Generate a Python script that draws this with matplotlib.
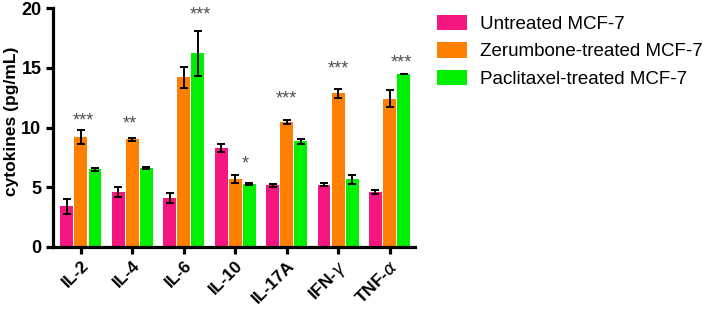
import matplotlib
matplotlib.use('Agg')
import matplotlib.pyplot as plt
import numpy as np

# cytokine panel, three treatment groups
cytokines = ['IL-2', 'IL-4', 'IL-6', 'IL-10', 'IL-17A', 'IFN-$\\gamma$', 'TNF-$\\alpha$']
series_names = ['Untreated MCF-7', 'Zerumbone-treated MCF-7', 'Paclitaxel-treated MCF-7']
untreated = [3.4, 4.6, 4.1, 8.3, 5.15, 5.2, 4.6]
untreated_err = [0.65, 0.45, 0.45, 0.35, 0.15, 0.12, 0.15]
zerumbone = [9.2, 9.0, 14.2, 5.7, 10.45, 12.85, 12.4]
zerumbone_err = [0.55, 0.12, 0.85, 0.35, 0.15, 0.35, 0.7]
paclitaxel = [6.5, 6.6, 16.2, 5.25, 8.85, 5.65, 14.5]
paclitaxel_err = [0.1, 0.06, 1.9, 0.1, 0.2, 0.4, 0.0]

# significance marks: (group index, series index, label, height of mark centre)
stars = [(0, 1.2, '***', 11.0), (1, 0.8, '**', 10.8), (2, 2.2, '***', 19.9),
         (3, 1.7, '*', 7.45), (4, 1, '***', 12.9), (5, 1, '***', 15.4),
         (6, 1.85, '***', 15.9)]

colors = ['#f5177f', '#ff7f00', '#00f000']
font = 'Liberation Sans'

fig = plt.figure(figsize=(7.1, 3.11), dpi=100)
ax = fig.add_axes([0.074, 0.206, 0.511, 0.768])

x = np.arange(len(cytokines))
width = 0.25
step = 0.275
data = [(untreated, untreated_err), (zerumbone, zerumbone_err),
        (paclitaxel, paclitaxel_err)]
handles = []
for i, (vals, errs) in enumerate(data):
    pos = x + (i - 1) * step
    b = ax.bar(pos, vals, width, color=colors[i], edgecolor='none',
               label=series_names[i], zorder=2)
    handles.append(b)
    ax.errorbar(pos, vals, yerr=errs, fmt='none', ecolor='black',
                elinewidth=1.4, capsize=3, capthick=1.4, zorder=3)

# asterisk glyph sits ~0.58 em above the baseline
star_size = 13
shift = 0.575 * star_size * 100 / 72 / 11.93
for g, s, lab, h in stars:
    ax.text(g + (s - 1) * step, h - shift, lab, ha='center', va='baseline',
            fontsize=star_size, color='#505050', family=font)

ax.set_xlim(-0.55, 6.5)
ax.set_ylim(0, 20)
ax.set_yticks([0, 5, 10, 15, 20])
ax.set_xticks(x)
ax.set_xticklabels(cytokines, rotation=45, ha='right', rotation_mode='anchor',
                   fontsize=12.5, fontweight='bold', family=font)
for lbl in ax.get_yticklabels():
    lbl.set_fontsize(13)
    lbl.set_fontweight('bold')
    lbl.set_family(font)
ax.set_ylabel('cytokines (pg/mL)', fontsize=12.5, fontweight='bold',
              family=font)
ax.yaxis.set_label_coords(-0.093, 0.525)

for side in ['top', 'right']:
    ax.spines[side].set_visible(False)
for side in ['left', 'bottom']:
    ax.spines[side].set_linewidth(2.3)
ax.tick_params(axis='both', width=2.3, length=5, direction='out', pad=3)

fig.legend(handles=handles, loc='upper left', bbox_to_anchor=(0.615, 0.953),
           frameon=False, prop={'family': font, 'size': 13.5},
           handlelength=1.6, handleheight=0.9, handletextpad=0.7,
           labelspacing=0.5, borderaxespad=0, borderpad=0)

fig.savefig('out.png', dpi=100)
